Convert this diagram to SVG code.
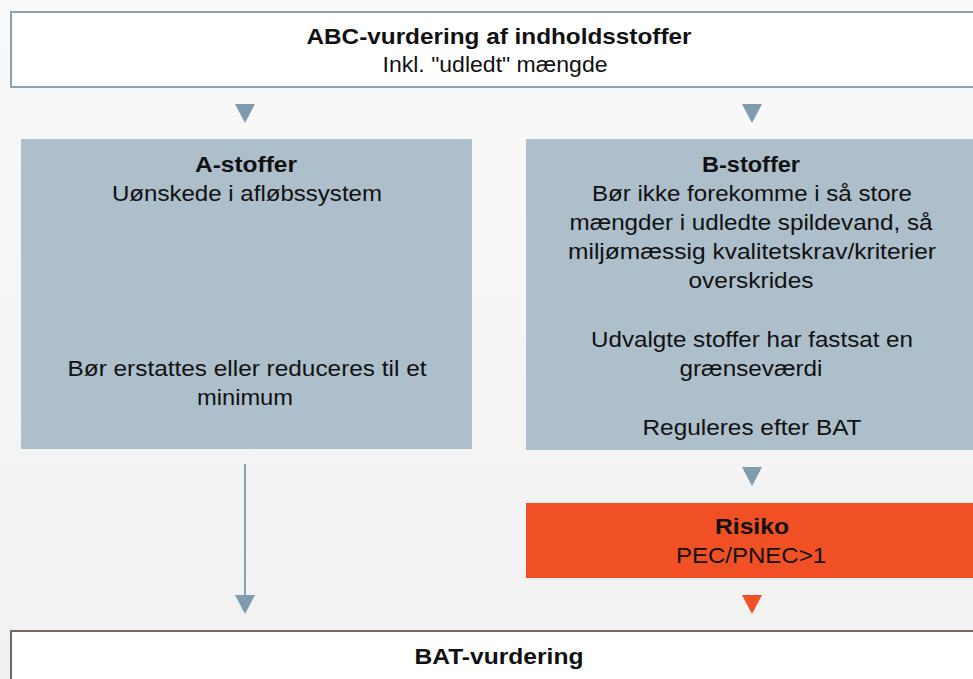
<svg xmlns="http://www.w3.org/2000/svg" width="973" height="679" viewBox="0 0 973 679">
<defs>
<linearGradient id="bg" x1="0" y1="0" x2="0" y2="1">
<stop offset="0" stop-color="#f9f9f9"/><stop offset="1" stop-color="#f1f1f1"/>
</linearGradient>
<style>
text{font-family:"Liberation Sans",Arial,sans-serif;font-size:22px;fill:#111;text-anchor:middle}
.b{font-weight:bold}
.gray{fill:#adbfcb}
.tri{fill:#7f9bb0}
.tri-o{fill:#f05023}
</style>
</defs>
<rect width="973" height="679" fill="url(#bg)"/>
<g id="connectors">
<line x1="245" y1="464" x2="245" y2="596" stroke="#8aa0b3" stroke-width="2"/>
<polygon class="tri" points="235,104 255,104 245,123"/>
<polygon class="tri" points="742,104 762,104 752,123"/>
<polygon class="tri" points="742,467 762,467 752,486"/>
<polygon class="tri" points="235,595 255,595 245,614"/>
<polygon class="tri-o" points="742,595 762,595 752,614"/>
</g>
<g id="top">
<rect x="11" y="12" width="975" height="75" fill="#fff" stroke="#8aa0b3" stroke-width="2"/>
<text x="499" y="44" class="b" font-size="21" textLength="385" lengthAdjust="spacingAndGlyphs">ABC-vurdering af indholdsstoffer</text>
<text x="495" y="72" font-size="21" textLength="225" lengthAdjust="spacingAndGlyphs">Inkl. "udledt" mængde</text>
</g>
<g id="a-stoffer">
<rect class="gray" x="21" y="139" width="451" height="310"/>
<text x="246" y="172" class="b" textLength="102" lengthAdjust="spacingAndGlyphs">A-stoffer</text>
<text x="247" y="201" textLength="270" lengthAdjust="spacingAndGlyphs">Uønskede i afløbssystem</text>
<text x="247" y="376" textLength="359" lengthAdjust="spacingAndGlyphs">Bør erstattes eller reduceres til et</text>
<text x="245" y="405" textLength="96" lengthAdjust="spacingAndGlyphs">minimum</text>
</g>
<g id="b-stoffer">
<rect class="gray" x="526" y="139" width="460" height="311"/>
<text x="751" y="172" class="b" textLength="98" lengthAdjust="spacingAndGlyphs">B-stoffer</text>
<text x="752" y="201" textLength="320" lengthAdjust="spacingAndGlyphs">Bør ikke forekomme i så store</text>
<text x="751" y="230" textLength="363" lengthAdjust="spacingAndGlyphs">mængder i udledte spildevand, så</text>
<text x="752" y="259" textLength="368" lengthAdjust="spacingAndGlyphs">miljømæssig kvalitetskrav/kriterier</text>
<text x="751" y="288" textLength="125" lengthAdjust="spacingAndGlyphs">overskrides</text>
<text x="752" y="347" textLength="322" lengthAdjust="spacingAndGlyphs">Udvalgte stoffer har fastsat en</text>
<text x="751" y="376" textLength="143" lengthAdjust="spacingAndGlyphs">grænseværdi</text>
<text x="752" y="435" textLength="219" lengthAdjust="spacingAndGlyphs">Reguleres efter BAT</text>
</g>
<g id="risiko">
<rect x="526" y="503" width="460" height="75" fill="#f05023"/>
<text x="752" y="534" class="b" textLength="74" lengthAdjust="spacingAndGlyphs">Risiko</text>
<text x="751" y="563" textLength="150" lengthAdjust="spacingAndGlyphs">PEC/PNEC&gt;1</text>
</g>
<g id="bat">
<rect x="11" y="631" width="975" height="50" fill="#fff" stroke="#76675a" stroke-width="2"/>
<text x="499" y="664" class="b" textLength="169" lengthAdjust="spacingAndGlyphs">BAT-vurdering</text>
</g>
</svg>
